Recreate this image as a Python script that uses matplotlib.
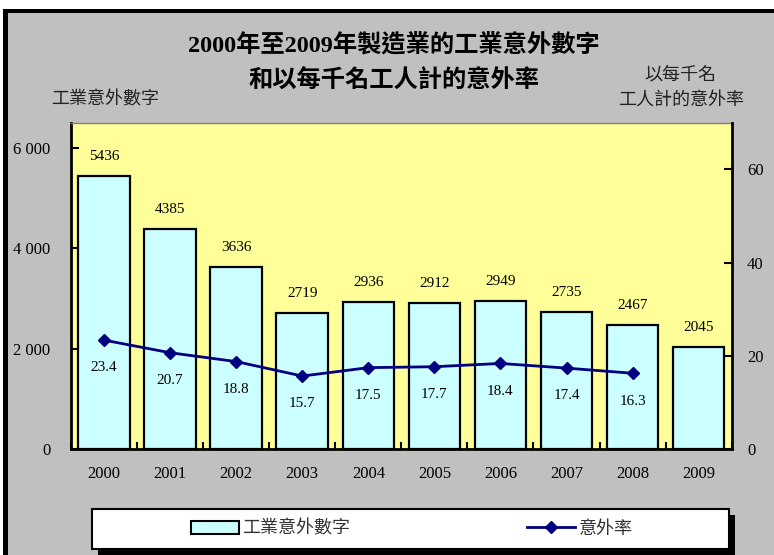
import matplotlib
matplotlib.use("Agg")
import matplotlib.pyplot as plt
from matplotlib.patches import Rectangle, Patch
from matplotlib.lines import Line2D
import numpy as np

plt.rcParams['font.family'] = ['Liberation Serif', 'Noto Sans CJK TC', 'DejaVu Sans']

years = ['2000', '2001', '2002', '2003', '2004', '2005', '2006', '2007', '2008', '2009']
accidents = [5436, 4385, 3636, 2719, 2936, 2912, 2949, 2735, 2467, 2045]
rate_years = ['2000', '2001', '2002', '2003', '2004', '2005', '2006', '2007', '2008']
rates = [23.4, 20.7, 18.8, 15.7, 17.5, 17.7, 18.4, 17.4, 16.3]
left_ticks = [0, 2000, 4000, 6000]
left_labels = ['0', '2 000', '4 000', '6 000']
right_ticks = [0, 20, 40, 60]

W, H = 774, 555
fig = plt.figure(figsize=(W / 100, H / 100), dpi=100, facecolor='white')

# frame: black top/left edge, grey panel
fig.patches.append(Rectangle((3 / W, 0), 1, 1 - 9 / H, transform=fig.transFigure,
                             facecolor='black', edgecolor='none', zorder=-2))
fig.patches.append(Rectangle((8 / W, 0), 1, 1 - 13 / H, transform=fig.transFigure,
                             facecolor='#C0C0C0', edgecolor='none', zorder=-1))

ax = fig.add_axes([71 / W, 1 - 449.3 / H, (731.7 - 71) / W, (449.3 - 122.7) / H])
ax.set_facecolor('#FFFF99')
x = np.arange(len(years))
bars = ax.bar(x, accidents, width=0.78, color='#CCFFFF', edgecolor='black', linewidth=1.6, zorder=2)
for xi, v in zip(x, accidents):
    ax.annotate(str(v), (xi, v), xytext=(0, 14), textcoords='offset points',
                ha='center', va='center', fontsize=11)
ax.set_xlim(-0.5, len(years) - 0.5)
ax.set_ylim(0, 6500)
ax.set_yticks(left_ticks)
ax.set_yticklabels(left_labels)
ax.set_xticks(x)
ax.set_xticklabels(years)
ax.set_xticks(np.arange(-0.5, len(years) + 0.5, 1), minor=True)
ax.tick_params(axis='x', which='major', length=0, pad=12, labelsize=12)
ax.tick_params(axis='x', which='minor', direction='in', length=5, width=1.5)
ax.tick_params(axis='y', direction='in', length=5.5, width=1.5, pad=15, labelsize=12)
for s in ['left', 'bottom']:
    ax.spines[s].set_linewidth(2)
ax.spines['top'].set_color('#808080')
ax.spines['top'].set_linewidth(1)
ax.spines['right'].set_visible(False)

ax2 = ax.twinx()
xr = [years.index(y) for y in rate_years]
ax2.plot(xr, rates, color='#000080', linewidth=2, marker='D', markersize=6.5, zorder=3)
for xi, v in zip(xr, rates):
    ax2.annotate(f'{v:.1f}', (xi, v), xytext=(0, -20), textcoords='offset points',
                 ha='center', va='center', fontsize=11)
ax2.set_ylim(0, 70)
ax2.set_yticks(right_ticks)
ax2.tick_params(axis='y', direction='in', length=5.5, width=1.5, pad=11, labelsize=12)
ax2.spines['right'].set_linewidth(2)
ax2.spines['left'].set_visible(False)
ax2.spines['bottom'].set_visible(False)
ax2.spines['top'].set_visible(False)

# titles
fig.text(394 / W, 1 - 45 / H, '2000年至2009年製造業的工業意外數字', ha='center', va='center',
         fontsize=17.5, fontweight='bold')
fig.text(394 / W, 1 - 81 / H, '和以每千名工人計的意外率', ha='center', va='center',
         fontsize=17.5, fontweight='bold')
fig.text(105 / W, 1 - 100 / H, '工業意外數字', ha='center', va='center', fontsize=13, color='#222222')
fig.text(680 / W, 1 - 75 / H, '以每千名', ha='center', va='center', fontsize=13, color='#222222')
fig.text(681 / W, 1 - 100 / H, '工人計的意外率', ha='center', va='center', fontsize=13, color='#222222')

# legend box with shadow
fig.patches.append(Rectangle((98 / W, 1 - 555 / H), (729 - 92) / W, 40 / H, transform=fig.transFigure,
                             facecolor='black', edgecolor='none', zorder=1))
fig.patches.append(Rectangle((92 / W, 1 - 549 / H), (729 - 92) / W, 40 / H, transform=fig.transFigure,
                             facecolor='white', edgecolor='black', linewidth=1.5, zorder=1))
handles = [Patch(facecolor='#CCFFFF', edgecolor='black', linewidth=1.5),
           Line2D([], [], color='#000080', linewidth=2, marker='D', markersize=6.5)]
leg = fig.legend(handles, ['工業意外數字', '意外率'], ncol=2, loc='center',
                 bbox_to_anchor=(412 / W, 1 - 529 / H), frameon=False, fontsize=13,
                 handlelength=2.65, handletextpad=0.2, columnspacing=9.8)
for t in leg.get_texts():
    t.set_color('#333333')

fig.savefig('out.png', dpi=100, facecolor=fig.get_facecolor())
